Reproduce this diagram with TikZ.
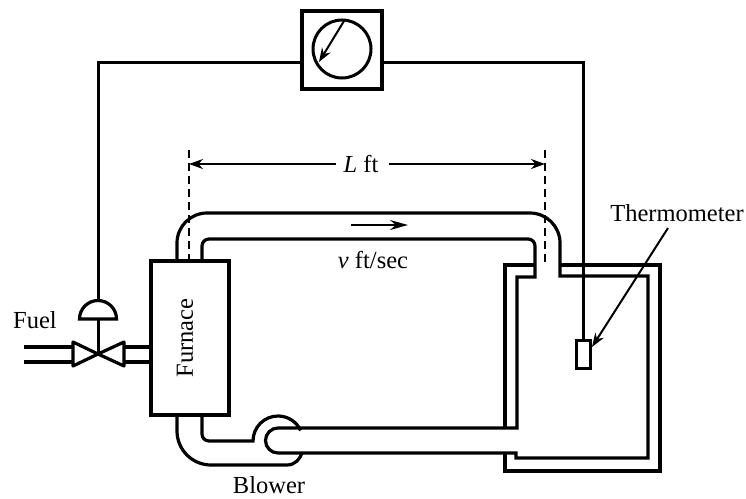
\documentclass[tikz,border=0pt]{standalone}
\usepackage{fontspec}
\setmainfont{Liberation Serif}
\usetikzlibrary{arrows.meta}
\tikzset{
 pipe/.style={line width=3.2pt,line join=miter},
 wire/.style={line width=3pt},
 box/.style={draw,line width=3.4pt,inner sep=0pt,fill=white},
 lab/.style={inner sep=0pt,font=\fontsize{24.5}{26}\selectfont},
 dimline/.style={line width=1.8pt},
 dashline/.style={line width=1.7pt,dash pattern=on 8pt off 5pt},
 tip/.style={-{Stealth[length=14pt,width=10pt]},line width=2pt}
}
\begin{document}
\begin{tikzpicture}[x=1pt,y=-1pt]
\useasboundingbox (0,0) rectangle (746,498);
% pipes
\draw[pipe] (177,261) -- (177,243) arc[start angle=180,end angle=270,radius=30] -- (530,213) arc[start angle=270,end angle=360,radius=30] -- (560,276) -- (648,276) -- (648,458) -- (516,458) -- (516,453) -- (278,453);
\draw[pipe] (202,261) -- (202,246) arc[start angle=180,end angle=270,radius=7] -- (528,239) arc[start angle=270,end angle=360,radius=7] -- (535,277) -- (517,277) -- (517,428) -- (278,428) arc[start angle=270,end angle=90,radius=12.5];
\draw[pipe] (535,265) -- (505,265) -- (505,428);
\draw[pipe] (560,265) -- (660,265) -- (660,471) -- (505,471) -- (505,453);
% blower
\draw[pipe] (177,415) -- (177,431) arc[start angle=180,end angle=90,radius=34] -- (287,465) .. controls (295,465) and (300,459) .. (302,453);
\draw[pipe] (202,415) -- (202,434) arc[start angle=180,end angle=90,radius=7] -- (253,441) arc[start angle=180,end angle=335,radius=25];
% furnace and others
\node[box,minimum width=78pt,minimum height=154pt] (furnace) at (190,338) {};
\node[lab,rotate=90] (furnacelabel) at (185,338) {Furnace};
% fuel lines
\coordinate (valve) at (98,354);
\coordinate (fuelA) at (24,347); \coordinate (fuelB) at (24,362);
\draw[pipe] (fuelA) -- (73,347) (fuelB) -- (73,362);
\draw[pipe] (124,347) -- (furnace.west |- 124,347) (124,362) -- (furnace.west |- 124,362);
\draw[pipe,line join=round] (valve) -- (73,342) -- (73,366) -- cycle;
\draw[pipe,line join=round] (valve) -- (124,342) -- (124,366) -- cycle;
% actuator
\coordinate (dome) at (98,300);
\draw[pipe] (79.5,319) arc[start angle=180,end angle=360,radius=18.5] -- cycle;
\draw[wire] (98,319) -- (valve);
% gauge
\node[box,minimum width=80pt,minimum height=78pt] (gauge) at (342,50) {};
\node[draw,circle,line width=3pt,minimum size=58pt,inner sep=0pt] (dial) at (342,49) {};
\draw[tip] (344,21) -- (319,62);
% sensor
\node[draw,line width=3pt,minimum width=14pt,minimum height=28pt,inner sep=0pt,fill=white] (sensor) at (583,354) {};
% signal wiring
\draw[wire] (gauge.west |- 0,62) -- (98,62) -- (dome);
\draw[wire] (gauge.east |- 0,62) -- (583,62) -- (sensor.north);
% dashed
\coordinate (dl) at (189,150); \coordinate (dr) at (545,150);
\draw[dashline] (dl) -- (189,265);
\draw[dashline] (dr) -- (545,266);
% dimension
\node[lab] (lft) at (361,164) {\textit{L} ft};
\draw[dimline,-{Stealth[length=14pt,width=10pt]}] (lft.west) ++(-7,0) -- (189,164);
\draw[dimline,-{Stealth[length=14pt,width=10pt]}] (lft.east) ++(10,0) -- (545,164);
% flow
\node[lab] (vel) at (373,260) {\textit{v} ft/sec};
\coordinate (fa) at (351,225); \coordinate (fb) at (408,225);
\draw[dimline,-{Stealth[length=18pt,width=10pt]}] (fa) -- (fb);
% labels
\node[lab] (therm) at (677,213) {Thermometer};
\coordinate (thermtip) at (592,347);
\draw[tip] (668,228) -- (thermtip);
\node[lab] (fuel) at (35,320) {Fuel};
\node[lab] (blower) at (269,485) {Blower};
\end{tikzpicture}
\end{document}
